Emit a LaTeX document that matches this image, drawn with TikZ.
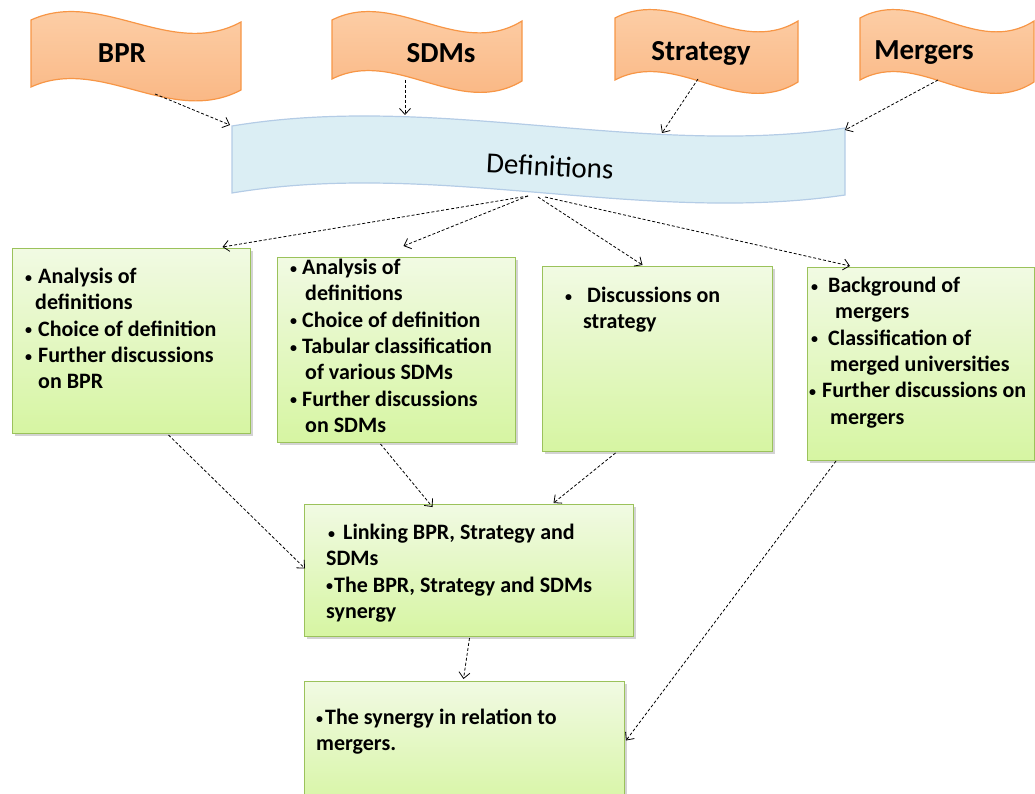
\documentclass[tikz,border=0pt]{standalone}
\usepackage{fontspec}
\setmainfont{Carlito}
\usetikzlibrary{arrows.meta,shadows}
\definecolor{wtop}{HTML}{FDD3AE}
\definecolor{wbot}{HTML}{F9B27C}
\definecolor{wline}{HTML}{F79646}
\definecolor{dfill}{HTML}{DBEEF4}
\definecolor{dline}{HTML}{B4CCE6}
\definecolor{gtop}{HTML}{F1FAE3}
\definecolor{gbot}{HTML}{D6F5A2}
\definecolor{gline}{HTML}{9BC25B}
% #1 style, #2 L, #3 R, #4 top-left y, #5 top-right y, #6 bottom-left y, #7 bottom-right y, #8 up, #9 down
\newcommand\wavebanner[9]{%
  \path[#1] (#2,#4) .. controls ({#2+(#3-#2)/3},{#4-#8}) and ({#2+2*(#3-#2)/3},{#4+#9}) .. (#3,#5)
    -- (#3,#7) .. controls ({#2+2*(#3-#2)/3},{#6+#9}) and ({#2+(#3-#2)/3},{#6-#8}) .. (#2,#6) -- cycle;}
\newcommand\ind[1]{\hspace*{#1pt}}
\newcommand\bul[1]{\makebox[#1pt][l]{\raisebox{1.5pt}{\fontsize{14}{14}\selectfont •}}}
\begin{document}
\begin{tikzpicture}[x=1pt,y=-1pt,
  orangewave/.style={draw=wline, line width=1.2pt, top color=wtop, bottom color=wbot},
  bluewave/.style={draw=dline, line width=1.2pt, fill=dfill},
  wlabel/.style={font=\bfseries\fontsize{29}{32}\selectfont, inner sep=0},
  deflabel/.style={font=\fontsize{29}{32}\selectfont, inner sep=0, rotate=-3},
  gbox/.style={draw=gline, line width=1pt, top color=gtop, bottom color=gbot,
    drop shadow={opacity=0.35, shadow xshift=2pt, shadow yshift=-2.5pt},
    rectangle, anchor=north west, inner sep=0},
  btext/.style={font=\bfseries\fontsize{22}{26.3}\selectfont, align=left, inner sep=0, anchor=north west},
  conn/.style={draw=black, dashed, dash pattern=on 3pt off 2pt, line width=0.8pt,
    -{Straight Barb[length=6pt,width=11pt]}}]
\clip (0,0) rectangle (1035,794);
% top banners
\wavebanner{orangewave}{31}{241}{20}{22}{87}{90}{32}{40}
\wavebanner{orangewave}{332}{522}{20}{21}{79}{81}{32}{40}
\wavebanner{orangewave}{615}{798}{18}{21}{80}{82}{32}{40}
\wavebanner{orangewave}{860}{1034}{18}{21}{80}{82}{32}{40}
\node[wlabel] (bpr) at (122,53) {BPR};
\node[wlabel] (sdms) at (441,53) {SDMs};
\node[wlabel] (strat) at (701,53) {Strategy};
\node[wlabel] (merg) at (924,53) {Mergers};
% definitions banner
\wavebanner{bluewave}{232}{845}{126}{128}{193}{195}{34}{32}
\node[deflabel] (def) at (550,166) {Definitions};
% boxes
\node[gbox, minimum width=238pt, minimum height=185pt] (b1) at (12,248) {};
\node[gbox, minimum width=238pt, minimum height=185pt] (b2) at (277,257) {};
\node[gbox, minimum width=230pt, minimum height=185pt] (b3) at (542,266) {};
\node[gbox, minimum width=227pt, minimum height=193pt] (b4) at (807,267) {};
\node[gbox, minimum width=329pt, minimum height=132pt] (b5) at (304,504) {};
\node[gbox, minimum width=320pt, minimum height=130pt] (b6) at (304,681) {};
% box texts
\node[btext] (t1) at (25,268) {\bul{13}Analysis of\\ \ind{10}definitions\\ \bul{13}Choice of definition\\ \bul{13}Further discussions\\ \ind{13}on BPR};
\node[btext] (t2) at (290,259) {\bul{12}Analysis of\\ \ind{15}definitions\\ \bul{12}Choice of definition\\ \bul{12}Tabular classification\\ \ind{15}of various SDMs\\ \bul{12}Further discussions\\ \ind{15}on SDMs};
\node[btext] (t3) at (565,287) {\bul{22}Discussions on\\ \ind{18}strategy};
\node[btext] (t4) at (809,277) {\ind{2}\bul{17}Background of\\ \ind{26}mergers\\ \ind{2}\bul{17}Classification of\\ \ind{21}merged universities\\ \bul{13}Further discussions on\\ \ind{21}mergers};
\node[btext] (t5) at (326,524) {\ind{2}\bul{15}Linking BPR, Strategy and\\ SDMs\\ \bul{8}The BPR, Strategy and SDMs\\ synergy};
\node[btext] (t6) at (316,709) {\bul{9}The synergy in relation to\\ mergers.};
% connectors
\draw[conn] ([shift={(33,41)}]bpr.center) -- ([shift={(-320,-41)}]def.center);
\draw[conn] ([shift={(-36,27)}]sdms.center) -- ([shift={(-145,-51)}]def.center);
\draw[conn] ([shift={(-3,26)}]strat.center) -- ([shift={(112,-33)}]def.center);
\draw[conn] ([shift={(14,27)}]merg.center) -- ([shift={(295,-36)}]def.center);
\draw[conn] ([shift={(-22,30)}]def.center) -- ([shift={(91,-1)}]b1.north);
\draw[conn] ([shift={(-22,30)}]def.center) -- ([shift={(7,-11)}]b2.north);
\draw[conn] ([shift={(-12,31)}]def.center) -- ([shift={(-15,-1)}]b3.north);
\draw[conn] ([shift={(-5,31)}]def.center) -- ([shift={(-71,-1)}]b4.north);
\draw[conn] ([shift={(37,1)}]b1.south) -- ([shift={(1,-2)}]b5.west);
\draw[conn] ([shift={(-16,1)}]b2.south) -- ([shift={(-36.5,3)}]b5.north);
\draw[conn] ([shift={(-42,1)}]b3.south) -- ([shift={(84.5,-1)}]b5.north);
\draw[conn] ([shift={(0.5,1)}]b5.south) -- ([shift={(-1,-2)}]b6.north);
\draw[conn] ([shift={(-85,0)}]b4.south) -- ([shift={(1,-6)}]b6.east);
\end{tikzpicture}
\end{document}
